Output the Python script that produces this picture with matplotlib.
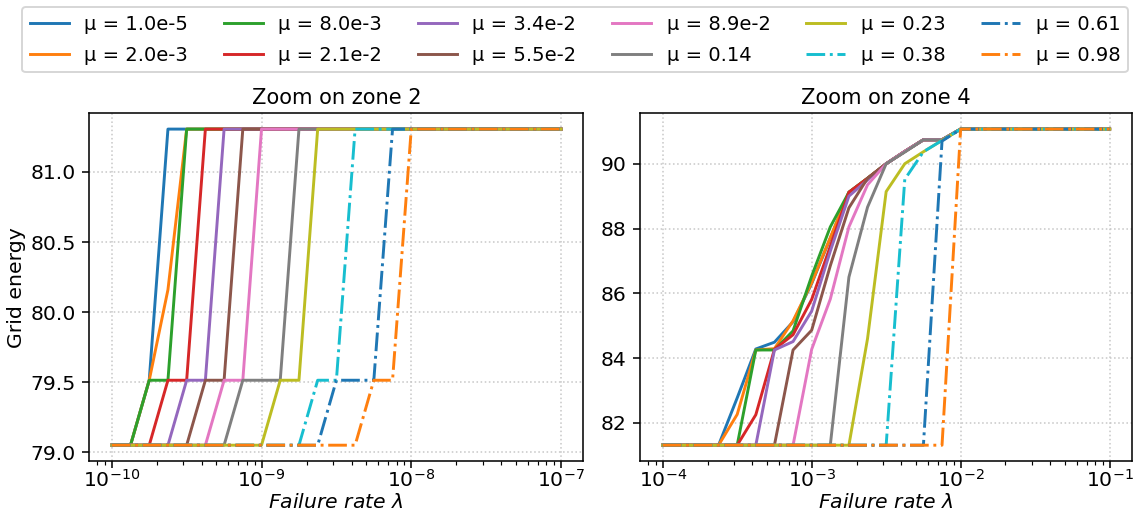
import numpy as np
import matplotlib
matplotlib.use("Agg")
import matplotlib.pyplot as plt

plt.rcParams['font.size'] = 10.5
plt.rcParams['axes.titlesize'] = 10.8
plt.rcParams['axes.labelsize'] = 10.5
plt.rcParams['legend.fontsize'] = 10

# failure rate grids (8 points per decade)
lam_zone2 = np.logspace(-10, -7, 25)
lam_zone4 = np.logspace(-4, -1, 25)

mu_labels = ["1.0e-5", "2.0e-3", "8.0e-3", "2.1e-2", "3.4e-2", "5.5e-2",
             "8.9e-2", "0.14", "0.23", "0.38", "0.61", "0.98"]

# zone 2 plateaus
L, M, T = 79.052, 79.515, 81.305
zone2_blue = [L]*2 + [M] + [T]*22
zone2_orange = [L]*2 + [M, 80.16] + [T]*21
zone2_green = [L]*2 + [M]*2 + [T]*21
zone2_red = [L]*3 + [M]*2 + [T]*20
zone2_purple = [L]*4 + [M]*2 + [T]*19
zone2_brown = [L]*5 + [M]*2 + [T]*18
zone2_pink = [L]*6 + [M]*2 + [T]*17
zone2_gray = [L]*7 + [M]*3 + [T]*15
zone2_olive = [L]*9 + [M]*2 + [T]*14
zone2_cyan = [L]*11 + [M]*2 + [T]*12
zone2_blue2 = [L]*12 + [M]*3 + [T]*10
zone2_orange2 = [L]*14 + [M]*2 + [T]*9

# zone 4
B, F = 81.31, 91.07
zone4_blue = [B]*4 + [82.77, 84.28, 84.49, 85.12, 86.30, 87.70, 89.12, 89.55, 90.0, 90.38, 90.74, 90.74] + [F]*9
zone4_orange = [B]*4 + [82.26, 84.25, 84.29, 85.15, 86.32, 87.72, 89.12, 89.55, 90.0, 90.38, 90.74, 90.74] + [F]*9
zone4_green = [B]*5 + [84.25, 84.25, 84.84, 86.53, 88.05, 89.12, 89.55, 90.0, 90.38, 90.74, 90.74] + [F]*9
zone4_red = [B]*5 + [82.25, 84.27, 84.72, 85.81, 87.45, 89.12, 89.55, 90.0, 90.38, 90.74, 90.74] + [F]*9
zone4_purple = [B]*6 + [84.25, 84.51, 85.45, 87.3, 89.0, 89.5, 90.0, 90.38, 90.74, 90.74] + [F]*9
zone4_brown = [B]*7 + [84.25, 84.86, 86.85, 88.64, 89.55, 90.0, 90.38, 90.74, 90.74] + [F]*9
zone4_pink = [B]*8 + [84.27, 85.82, 88.05, 89.35, 90.0, 90.38, 90.74, 90.74] + [F]*9
zone4_gray = [B]*10 + [86.5, 88.66, 90.0, 90.36, 90.74, 90.74] + [F]*9
zone4_olive = [B]*11 + [84.6, 89.14, 90.0, 90.37, 90.72] + [F]*9
zone4_cyan = [B]*13 + [89.52, 90.37, 90.72] + [F]*9
zone4_blue2 = [B]*15 + [90.7] + [F]*9
zone4_orange2 = [B]*16 + [F]*9

zone2 = [zone2_blue, zone2_orange, zone2_green, zone2_red, zone2_purple, zone2_brown,
         zone2_pink, zone2_gray, zone2_olive, zone2_cyan, zone2_blue2, zone2_orange2]
zone4 = [zone4_blue, zone4_orange, zone4_green, zone4_red, zone4_purple, zone4_brown,
         zone4_pink, zone4_gray, zone4_olive, zone4_cyan, zone4_blue2, zone4_orange2]

fig = plt.figure(figsize=(1138/140, 514/140), dpi=140)
ax1 = fig.add_axes([0.0785, 0.1031, 0.4342, 0.6765])
ax2 = fig.add_axes([0.5627, 0.1031, 0.4320, 0.6765])

for ax, lam, series, title in [(ax1, lam_zone2, zone2, "Zoom on zone 2"),
                               (ax2, lam_zone4, zone4, "Zoom on zone 4")]:
    for i, (y, lab) in enumerate(zip(series, mu_labels)):
        ls = '-.' if i >= 9 else '-'
        ax.plot(lam, y, ls, label=f"μ = {lab}")
    ax.set_xscale('log')
    ax.set_title(title, pad=5)
    ax.set_xlabel(r'$Failure\ rate\ \lambda$', labelpad=1)
    ax.tick_params(axis='x', which='major', pad=0.5)
    ax.grid(True, linestyle=':', color='#c8c8c8')

ax1.set_ylabel("Grid energy", labelpad=2)

handles, labels = ax1.get_legend_handles_labels()
fig.legend(handles, labels, ncol=6, loc='upper left', mode='expand',
           bbox_to_anchor=(0.0193, 0.986, 0.972, 0.0), borderaxespad=0,
           labelspacing=0.6)

fig.savefig("out.png", dpi=140)
